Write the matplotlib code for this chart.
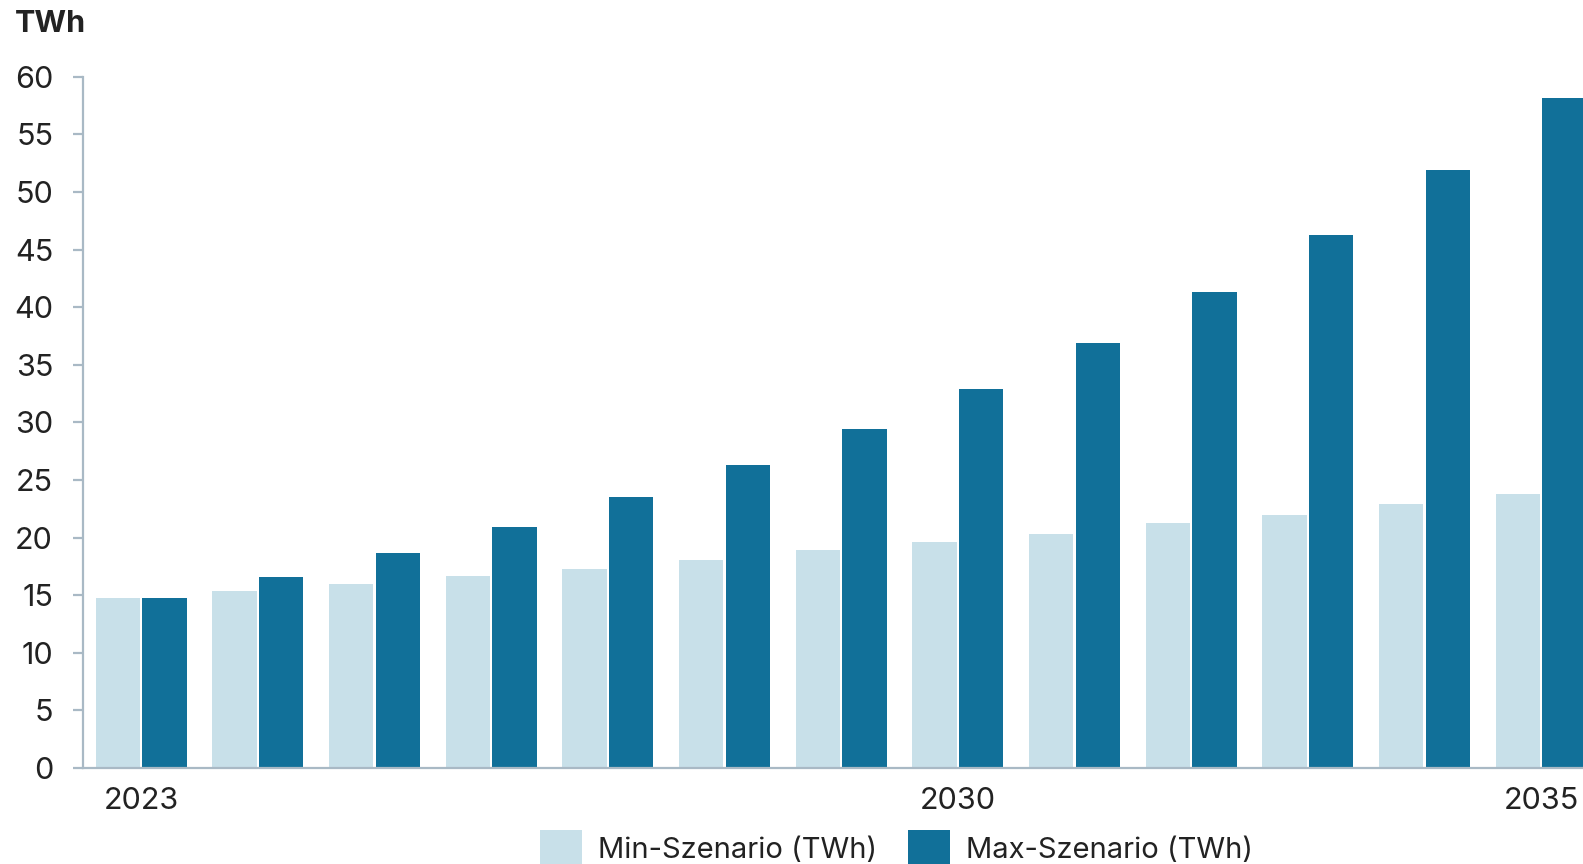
import matplotlib
matplotlib.use("Agg")
import matplotlib.pyplot as plt
from matplotlib.patches import Patch
import numpy as np

years = [2023, 2024, 2025, 2026, 2027, 2028, 2029, 2030, 2031, 2032, 2033, 2034, 2035]
min_twh = [14.8, 15.4, 16.0, 16.7, 17.3, 18.1, 18.9, 19.6, 20.3, 21.3, 22.0, 22.9, 23.8]
max_twh = [14.8, 16.6, 18.7, 20.9, 23.5, 26.3, 29.4, 32.9, 36.9, 41.3, 46.3, 51.9, 58.2]
labeled_years = [2023, 2030, 2035]
y_ticks = list(range(0, 61, 5))

light = "#c8e0e9"
dark = "#117099"
axis_col = "#a9b9c5"
text_col = "#222222"

plt.rcParams["font.family"] = ["Inter", "DejaVu Sans"]

fig = plt.figure(figsize=(15.83, 8.64), dpi=100)
ax = fig.add_axes([0.0524, 0.111, 0.9476, 0.8])

x = np.arange(len(years))
w = 0.38
off = 0.2
ax.bar(x - off, min_twh, width=w, color=light, edgecolor="none", label="Min-Szenario (TWh)")
ax.bar(x + off, max_twh, width=w, color=dark, edgecolor="none", label="Max-Szenario (TWh)")

ax.set_ylim(0, 60)
ax.set_xlim(-0.5, 12.36)
ax.set_yticks(y_ticks)
ax.set_yticklabels([str(v) for v in y_ticks])
ax.set_xticks([years.index(y) for y in labeled_years])
ax.set_xticklabels([str(y) for y in labeled_years])

for s in ["top", "right"]:
    ax.spines[s].set_visible(False)
for s in ["left", "bottom"]:
    ax.spines[s].set_color(axis_col)
    ax.spines[s].set_linewidth(1.6)

ax.tick_params(axis="y", length=7.5, width=1.6, color=axis_col, pad=14,
               labelsize=22, labelcolor=text_col)
ax.tick_params(axis="x", length=0, pad=13.5, labelsize=22, labelcolor=text_col)

fig.text(0.0095, 0.972, "TWh", fontsize=22, fontweight="bold", color=text_col,
         ha="left", va="center")

handles = [Patch(facecolor=light, edgecolor="none"), Patch(facecolor=dark, edgecolor="none")]
fig.legend(handles, ["Min-Szenario (TWh)", "Max-Szenario (TWh)"], loc="center",
           bbox_to_anchor=(0.5665, 0.0185), ncol=2, frameon=False, fontsize=21,
           handlelength=1.45, handleheight=1.5, handletextpad=0.55, columnspacing=1.05,
           labelcolor=text_col, borderpad=0.0)

fig.savefig("out.png", dpi=100, facecolor="white")
